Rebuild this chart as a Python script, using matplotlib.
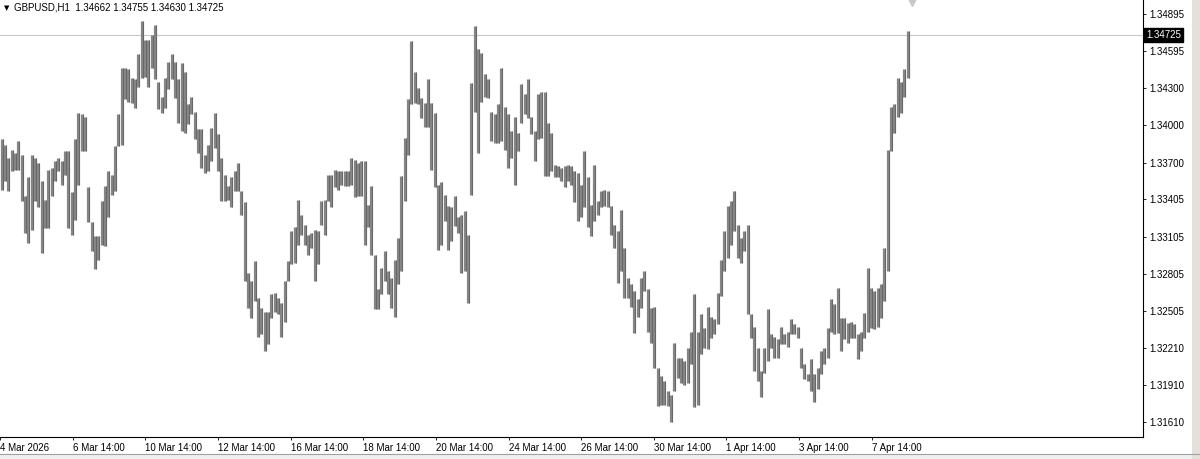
import numpy as np
import matplotlib
matplotlib.use("Agg")
import matplotlib.pyplot as plt
import matplotlib.transforms as mtransforms
from matplotlib.patches import Rectangle

highs = [
    1.3389, 1.3384, 1.3374, 1.3380, 1.3378, 1.3387, 1.3376, 1.3343, 1.3358, 1.3376,
    1.3374, 1.3370, 1.3355, 1.3340, 1.3364, 1.3366, 1.3371, 1.3374, 1.3371, 1.3379,
    1.3379, 1.3346, 1.3389, 1.3410, 1.3409, 1.3407, 1.3350, 1.3322, 1.3311, 1.3311,
    1.3339, 1.3351, 1.3363, 1.3360, 1.3383, 1.3409, 1.3446, 1.3446, 1.3445, 1.3438,
    1.3437, 1.3457, 1.3484, 1.3469, 1.3469, 1.3473, 1.3481, 1.3435, 1.3423, 1.3438,
    1.3451, 1.3457, 1.3451, 1.3437, 1.3450,
    1.3443, 1.3417, 1.3423, 1.3411, 1.3397, 1.3397, 1.3376, 1.3384, 1.3398, 1.3410,
    1.3393, 1.3374, 1.3360, 1.3351, 1.3358, 1.3363, 1.3370, 1.3347, 1.3338, 1.3281,
    1.3275, 1.3291, 1.3261, 1.3253, 1.3250, 1.3250, 1.3264, 1.3265, 1.3261, 1.3257,
    1.3275, 1.3291, 1.3315, 1.3318, 1.3340, 1.3328, 1.3320, 1.3312, 1.3313, 1.3316,
    1.3315, 1.3339, 1.3340, 1.3360, 1.3360, 1.3364, 1.3363, 1.3363, 1.3363, 1.3363,
    1.3374, 1.3372, 1.3370, 1.3371,
    1.3371, 1.3336, 1.3351, 1.3296, 1.3268, 1.3285, 1.3299, 1.3283, 1.3277, 1.3292,
    1.3309, 1.3359, 1.3390, 1.3421, 1.3468, 1.3443, 1.3430, 1.3422, 1.3418, 1.3437,
    1.3418, 1.3410, 1.3352, 1.3354, 1.3344, 1.3335, 1.3334, 1.3343, 1.3326, 1.3328,
    1.3331, 1.3312, 1.3434, 1.3480, 1.3461, 1.3458, 1.3441, 1.3437, 1.3411, 1.3409,
    1.3417, 1.3446, 1.3415, 1.3409, 1.3395, 1.3407, 1.3394, 1.3433, 1.3425, 1.3437,
    1.3407, 1.3395, 1.3425, 1.3427, 1.3427,
    1.3402, 1.3394, 1.3368, 1.3367, 1.3366, 1.3367, 1.3368, 1.3367, 1.3363, 1.3362,
    1.3352, 1.3379, 1.3358, 1.3336, 1.3368, 1.3339, 1.3347, 1.3348, 1.3347, 1.3335,
    1.3320, 1.3315, 1.3332, 1.3301, 1.3277, 1.3272, 1.3267, 1.3260, 1.3277, 1.3283,
    1.3268, 1.3253, 1.3254, 1.3205, 1.3198, 1.3194, 1.3186, 1.3183, 1.3225, 1.3213,
    1.3213, 1.3210, 1.3221, 1.3234, 1.3264, 1.3234, 1.3248, 1.3237, 1.3254, 1.3246,
    1.3244, 1.3265, 1.3292, 1.3315, 1.3335,
    1.3339, 1.3347, 1.3320, 1.3309, 1.3315, 1.3320, 1.3248, 1.3238, 1.3221, 1.3202,
    1.3221, 1.3252, 1.3232, 1.3230, 1.3228, 1.3238, 1.3232, 1.3234, 1.3244, 1.3240,
    1.3238, 1.3221, 1.3208, 1.3200, 1.3212, 1.3200, 1.3205, 1.3218, 1.3221, 1.3237,
    1.3260, 1.3256, 1.3269, 1.3245, 1.3245, 1.3241, 1.3242, 1.3240, 1.3232, 1.3234,
    1.3249, 1.3285, 1.3269, 1.3267, 1.3269, 1.3272, 1.3301, 1.3380, 1.3415, 1.3417,
    1.3438, 1.3435, 1.3445, 1.34755,
]
lows = [
    1.3348, 1.3355, 1.3347, 1.3363, 1.3364, 1.3364, 1.3339, 1.3313, 1.3305, 1.3316,
    1.3339, 1.3334, 1.3297, 1.3317, 1.3317, 1.3343, 1.3355, 1.3363, 1.3352, 1.3360,
    1.3317, 1.3312, 1.3324, 1.3352, 1.3379, 1.3379, 1.3322, 1.3299, 1.3284, 1.3292,
    1.3304, 1.3303, 1.3326, 1.3344, 1.3347, 1.3383, 1.3384, 1.3421, 1.3419, 1.3418,
    1.3414, 1.3431, 1.3438, 1.3439, 1.3431, 1.3446, 1.3437, 1.3413, 1.3410, 1.3414,
    1.3429, 1.3437, 1.3422, 1.3402, 1.3395,
    1.3394, 1.3401, 1.3409, 1.3389, 1.3378, 1.3366, 1.3362, 1.3363, 1.3371, 1.3382,
    1.3363, 1.3339, 1.3339, 1.3340, 1.3334, 1.3347, 1.3347, 1.3328, 1.3275, 1.3253,
    1.3245, 1.3259, 1.3230, 1.3232, 1.3218, 1.3224, 1.3245, 1.3250, 1.3248, 1.3230,
    1.3242, 1.3275, 1.3288, 1.3289, 1.3304, 1.3312, 1.3304, 1.3296, 1.3301, 1.3275,
    1.3288, 1.3320, 1.3312, 1.3339, 1.3334, 1.3350, 1.3348, 1.3352, 1.3351, 1.3351,
    1.3352, 1.3342, 1.3343, 1.3343,
    1.3304, 1.3318, 1.3296, 1.3252, 1.3252, 1.3264, 1.3275, 1.3264, 1.3253, 1.3246,
    1.3272, 1.3283, 1.3339, 1.3376, 1.3417, 1.3418, 1.3417, 1.3406, 1.3399, 1.3399,
    1.3364, 1.3350, 1.3300, 1.3304, 1.3323, 1.3300, 1.3307, 1.3319, 1.3313, 1.3281,
    1.3283, 1.3257, 1.3344, 1.3411, 1.3378, 1.3419, 1.3423, 1.3422, 1.3387, 1.3386,
    1.3386, 1.3387, 1.3380, 1.3366, 1.3374, 1.3352, 1.3379, 1.3402, 1.3409, 1.3406,
    1.3393, 1.3371, 1.3389, 1.3390, 1.3359,
    1.3359, 1.3363, 1.3358, 1.3358, 1.3355, 1.3350, 1.3355, 1.3352, 1.3338, 1.3323,
    1.3326, 1.3334, 1.3318, 1.3311, 1.3323, 1.3328, 1.3334, 1.3335, 1.3334, 1.3312,
    1.3301, 1.3273, 1.3283, 1.3261, 1.3261, 1.3254, 1.3233, 1.3246, 1.3253, 1.3267,
    1.3234, 1.3225, 1.3205, 1.3174, 1.3175, 1.3175, 1.3174, 1.3161, 1.3186, 1.3197,
    1.3193, 1.3191, 1.3193, 1.3208, 1.3173, 1.3175, 1.3216, 1.3221, 1.3220, 1.3229,
    1.3232, 1.3240, 1.3263, 1.3283, 1.3293,
    1.3304, 1.3315, 1.3293, 1.3289, 1.3299, 1.3248, 1.3229, 1.3202, 1.3194, 1.3181,
    1.3201, 1.3210, 1.3221, 1.3213, 1.3213, 1.3224, 1.3224, 1.3222, 1.3232, 1.3232,
    1.3229, 1.3205, 1.3196, 1.3194, 1.3186, 1.3177, 1.3188, 1.3200, 1.3208, 1.3213,
    1.3234, 1.3232, 1.3233, 1.3218, 1.3228, 1.3225, 1.3229, 1.3229, 1.3212, 1.3218,
    1.3229, 1.3234, 1.3237, 1.3236, 1.3238, 1.3245, 1.3259, 1.3283, 1.3379, 1.3394,
    1.3407, 1.3410, 1.3423, 1.3438,
]

symbol = "GBPUSD,H1"
last_ohlc = [1.34662, 1.34755, 1.34630, 1.34725]
price_ticks = [1.34895, 1.34595, 1.34300, 1.34000, 1.33700, 1.33405,
               1.33105, 1.32805, 1.32505, 1.32210, 1.31910, 1.31610]
time_labels = ["4 Mar 2026", "6 Mar 14:00", "10 Mar 14:00", "12 Mar 14:00",
               "16 Mar 14:00", "18 Mar 14:00", "20 Mar 14:00", "24 Mar 14:00",
               "26 Mar 14:00", "30 Mar 14:00", "1 Apr 14:00", "3 Apr 14:00",
               "7 Apr 14:00"]

plt.rcParams['font.family'] = ['Liberation Sans', 'DejaVu Sans']

fig = plt.figure(figsize=(12, 4.59), dpi=100)
ax = fig.add_axes([0, 22 / 459, 1143 / 1200, 437 / 459])

n = len(highs)
x = np.arange(n)
# grey bodies, with a thin darker stroke to mimic the packed OHLC bars
ax.vlines(x, lows, highs, color='#858585', lw=2.3)
ax.vlines(x + 0.3, lows, highs, color='#5a5a5a', lw=0.5)

ax.set_xlim(-0.5, 342.7)
ax.set_ylim(1.31492, 1.35008)

# current price line + label
close = last_ohlc[3]
ax.axhline(close, color='#c8c8c8', lw=0.8, zorder=0)
ax.text(1.003, close, f"{close:.5f}", transform=ax.get_yaxis_transform(),
        ha='left', va='center', color='white', fontsize=7, clip_on=False,
        bbox=dict(boxstyle='square,pad=0.2', fc='black', ec='black'))

# chart shift marker
ax.plot([n + 0.3], [0.995], transform=mtransforms.blended_transform_factory(ax.transData, ax.transAxes),
        marker='v', ms=6, color='#c8c8c8', clip_on=False)

# axes styling
for side in ['top', 'left']:
    ax.spines[side].set_visible(False)
for side in ['right', 'bottom']:
    ax.spines[side].set_color('black')
    ax.spines[side].set_linewidth(0.8)

ax.yaxis.tick_right()
ax.set_yticks(price_ticks)
ax.set_yticklabels([f"{p:.5f}" for p in price_ticks])
ax.tick_params(axis='y', direction='out', length=2.5, width=0.6, pad=2,
               labelsize=7, colors='black')

step = 72.7 / 3.333
ax.set_xticks(np.arange(len(time_labels)) * step - 0.5)
ax.set_xticklabels(time_labels)
for lbl in ax.get_xticklabels():
    lbl.set_horizontalalignment('left')
ax.tick_params(axis='x', direction='out', length=2.5, width=0.6, pad=2,
               labelsize=7, colors='black')

# header
fig.text(4 / 1200, 1 - 8 / 459, "\u25bc", fontsize=5, va='center', ha='left',
         family='DejaVu Sans')
fig.text(14 / 1200, 1 - 8 / 459,
         symbol + "  " + " ".join(f"{v:.5f}" for v in last_ohlc),
         fontsize=7, va='center', ha='left')

# window chrome: bottom tab strip, right edge
fig.patches.append(Rectangle((0, 0), 1, 5 / 459, transform=fig.transFigure,
                             fc='#f0f0f0', ec='none'))
fig.lines.append(plt.Line2D([0, 1], [5 / 459, 5 / 459], transform=fig.transFigure,
                            color='#a0a0a0', lw=0.8))
fig.patches.append(Rectangle((1192 / 1200, 0), 8 / 1200, 1, transform=fig.transFigure,
                             fc='#e4e0dc', ec='none'))

fig.savefig("out.png", dpi=100)
